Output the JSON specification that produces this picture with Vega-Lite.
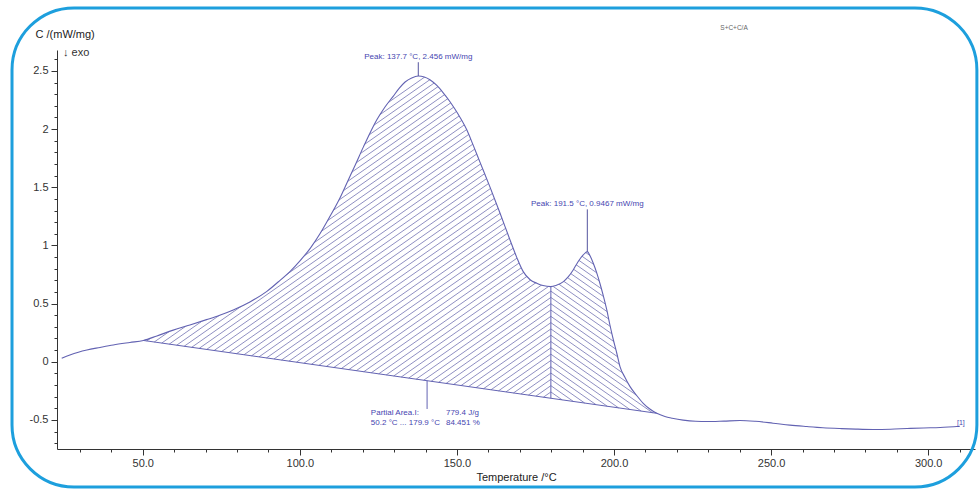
{
  "$schema": "https://vega.github.io/schema/vega-lite/v6.json",
  "width": 918,
  "height": 399,
  "autosize": {"type": "none"},
  "padding": {"left": 57, "top": 50, "right": 5, "bottom": 41},
  "background": "white",
  "config": {
    "view": {"stroke": null},
    "font": "Liberation Sans",
    "axis": {"domainColor": "#333", "tickColor": "#333", "labelColor": "#333", "labelFontSize": 11, "titleFontSize": 11, "titleFontWeight": "normal", "titleColor": "#222", "grid": false, "labelOverlap": false, "labelFlush": false, "zindex": 1}
  },
  "datasets": {
    "curve": [
      {"T": 24.2, "v": 0.030}, {"T": 26.8, "v": 0.058}, {"T": 29.5, "v": 0.082}, {"T": 32.2, "v": 0.101},
      {"T": 36.4, "v": 0.123}, {"T": 40.6, "v": 0.144}, {"T": 45.9, "v": 0.166}, {"T": 50.2, "v": 0.183},
      {"T": 54.5, "v": 0.222}, {"T": 59.7, "v": 0.272}, {"T": 65.0, "v": 0.316}, {"T": 70.3, "v": 0.362},
      {"T": 74.5, "v": 0.400}, {"T": 78.8, "v": 0.445}, {"T": 84.1, "v": 0.514}, {"T": 89.5, "v": 0.605},
      {"T": 93.7, "v": 0.700}, {"T": 97.0, "v": 0.780}, {"T": 100.1, "v": 0.870}, {"T": 103.3, "v": 0.975},
      {"T": 106.4, "v": 1.100}, {"T": 109.6, "v": 1.250}, {"T": 112.8, "v": 1.410}, {"T": 115.2, "v": 1.550},
      {"T": 117.6, "v": 1.690}, {"T": 120.2, "v": 1.845}, {"T": 122.3, "v": 1.965}, {"T": 124.5, "v": 2.080},
      {"T": 127.1, "v": 2.190}, {"T": 129.7, "v": 2.282}, {"T": 131.6, "v": 2.350}, {"T": 133.5, "v": 2.405},
      {"T": 135.6, "v": 2.440}, {"T": 137.7, "v": 2.456}, {"T": 139.6, "v": 2.448}, {"T": 141.4, "v": 2.425},
      {"T": 143.6, "v": 2.375}, {"T": 145.7, "v": 2.309}, {"T": 147.8, "v": 2.235}, {"T": 149.4, "v": 2.170},
      {"T": 151.0, "v": 2.100}, {"T": 153.2, "v": 1.990}, {"T": 155.2, "v": 1.860}, {"T": 157.3, "v": 1.718},
      {"T": 160.5, "v": 1.503}, {"T": 163.7, "v": 1.279}, {"T": 166.9, "v": 1.047}, {"T": 169.1, "v": 0.893},
      {"T": 171.1, "v": 0.775}, {"T": 173.3, "v": 0.705}, {"T": 175.4, "v": 0.675}, {"T": 177.4, "v": 0.655},
      {"T": 179.9, "v": 0.646}, {"T": 181.5, "v": 0.656}, {"T": 183.9, "v": 0.689}, {"T": 185.4, "v": 0.729},
      {"T": 187.0, "v": 0.789}, {"T": 188.5, "v": 0.858}, {"T": 190.2, "v": 0.918}, {"T": 191.5, "v": 0.9467},
      {"T": 192.4, "v": 0.910}, {"T": 193.4, "v": 0.847}, {"T": 194.5, "v": 0.764}, {"T": 195.5, "v": 0.675},
      {"T": 196.6, "v": 0.566}, {"T": 197.7, "v": 0.445}, {"T": 198.7, "v": 0.316}, {"T": 199.8, "v": 0.187},
      {"T": 200.9, "v": 0.071}, {"T": 201.9, "v": -0.042}, {"T": 203.5, "v": -0.135}, {"T": 205.1, "v": -0.214},
      {"T": 207.2, "v": -0.290}, {"T": 209.3, "v": -0.357}, {"T": 211.4, "v": -0.406}, {"T": 213.6, "v": -0.443},
      {"T": 216.2, "v": -0.470}, {"T": 218.5, "v": -0.485}, {"T": 222.0, "v": -0.502}, {"T": 226.0, "v": -0.512},
      {"T": 229.6, "v": -0.514}, {"T": 235.0, "v": -0.510}, {"T": 240.1, "v": -0.505}, {"T": 245.0, "v": -0.512},
      {"T": 250.6, "v": -0.528}, {"T": 256.0, "v": -0.545}, {"T": 261.4, "v": -0.557}, {"T": 266.5, "v": -0.567},
      {"T": 271.9, "v": -0.574}, {"T": 277.0, "v": -0.579}, {"T": 282.4, "v": -0.582}, {"T": 288.0, "v": -0.580},
      {"T": 293.3, "v": -0.574}, {"T": 298.5, "v": -0.569}, {"T": 303.8, "v": -0.565}, {"T": 310.1, "v": -0.555}
    ],
    "hatch1": [
      {"T": 177.52, "v": -0.3048, "T2": 179.9, "v2": -0.2597}, {"T": 175.14, "v": -0.2956, "T2": 179.9, "v2": -0.2056},
      {"T": 172.75, "v": -0.2865, "T2": 179.9, "v2": -0.1514}, {"T": 170.37, "v": -0.2774, "T2": 179.9, "v2": -0.0972},
      {"T": 167.99, "v": -0.2683, "T2": 179.9, "v2": -0.0431}, {"T": 165.61, "v": -0.2591, "T2": 179.9, "v2": 0.0111},
      {"T": 163.23, "v": -0.2500, "T2": 179.9, "v2": 0.0653}, {"T": 160.84, "v": -0.2409, "T2": 179.9, "v2": 0.1195},
      {"T": 158.46, "v": -0.2318, "T2": 179.9, "v2": 0.1736}, {"T": 156.08, "v": -0.2226, "T2": 179.9, "v2": 0.2278},
      {"T": 153.70, "v": -0.2135, "T2": 179.9, "v2": 0.2820}, {"T": 151.32, "v": -0.2044, "T2": 179.9, "v2": 0.3361},
      {"T": 148.93, "v": -0.1953, "T2": 179.9, "v2": 0.3903}, {"T": 146.55, "v": -0.1861, "T2": 179.9, "v2": 0.4445},
      {"T": 144.17, "v": -0.1770, "T2": 179.9, "v2": 0.4987}, {"T": 141.79, "v": -0.1679, "T2": 179.9, "v2": 0.5528},
      {"T": 139.41, "v": -0.1588, "T2": 179.9, "v2": 0.6070}, {"T": 137.02, "v": -0.1496, "T2": 179.9, "v2": 0.6612},
      {"T": 134.64, "v": -0.1405, "T2": 179.9, "v2": 0.7153}, {"T": 132.26, "v": -0.1314, "T2": 179.9, "v2": 0.7695},
      {"T": 129.88, "v": -0.1223, "T2": 179.9, "v2": 0.8237}, {"T": 127.50, "v": -0.1131, "T2": 179.9, "v2": 0.8778},
      {"T": 125.11, "v": -0.1040, "T2": 179.9, "v2": 0.9320}, {"T": 122.73, "v": -0.0949, "T2": 179.9, "v2": 0.9862},
      {"T": 120.35, "v": -0.0858, "T2": 179.9, "v2": 1.0404}, {"T": 117.97, "v": -0.0766, "T2": 179.9, "v2": 1.0945},
      {"T": 115.59, "v": -0.0675, "T2": 179.9, "v2": 1.1487}, {"T": 113.20, "v": -0.0584, "T2": 179.9, "v2": 1.2029},
      {"T": 110.82, "v": -0.0492, "T2": 179.9, "v2": 1.2570}, {"T": 108.44, "v": -0.0401, "T2": 179.9, "v2": 1.3112},
      {"T": 106.06, "v": -0.0310, "T2": 179.9, "v2": 1.3654}, {"T": 103.68, "v": -0.0219, "T2": 179.9, "v2": 1.4195},
      {"T": 101.29, "v": -0.0127, "T2": 179.9, "v2": 1.4737}, {"T": 98.91, "v": -0.0036, "T2": 179.9, "v2": 1.5279},
      {"T": 96.53, "v": 0.0055, "T2": 179.9, "v2": 1.5821}, {"T": 94.15, "v": 0.0146, "T2": 179.9, "v2": 1.6362},
      {"T": 91.77, "v": 0.0238, "T2": 179.9, "v2": 1.6904}, {"T": 89.38, "v": 0.0329, "T2": 179.9, "v2": 1.7446},
      {"T": 87.00, "v": 0.0420, "T2": 179.9, "v2": 1.7987}, {"T": 84.62, "v": 0.0511, "T2": 179.9, "v2": 1.8529},
      {"T": 82.24, "v": 0.0603, "T2": 179.9, "v2": 1.9071}, {"T": 79.86, "v": 0.0694, "T2": 179.9, "v2": 1.9612},
      {"T": 77.47, "v": 0.0785, "T2": 179.9, "v2": 2.0154}, {"T": 75.09, "v": 0.0876, "T2": 179.9, "v2": 2.0696},
      {"T": 72.71, "v": 0.0968, "T2": 179.9, "v2": 2.1238}, {"T": 70.33, "v": 0.1059, "T2": 179.9, "v2": 2.1779},
      {"T": 67.95, "v": 0.1150, "T2": 179.9, "v2": 2.2321}, {"T": 65.56, "v": 0.1241, "T2": 179.9, "v2": 2.2863},
      {"T": 63.18, "v": 0.1333, "T2": 179.9, "v2": 2.3404}, {"T": 60.80, "v": 0.1424, "T2": 179.9, "v2": 2.3946},
      {"T": 58.42, "v": 0.1515, "T2": 179.9, "v2": 2.4488}, {"T": 56.04, "v": 0.1607, "T2": 179.9, "v2": 2.5029},
      {"T": 53.65, "v": 0.1698, "T2": 179.9, "v2": 2.5571}, {"T": 51.27, "v": 0.1789, "T2": 179.9, "v2": 2.6113},
      {"T": 48.89, "v": 0.1880, "T2": 179.9, "v2": 2.6654}, {"T": 46.51, "v": 0.1972, "T2": 179.9, "v2": 2.7196},
      {"T": 44.13, "v": 0.2063, "T2": 179.9, "v2": 2.7738}, {"T": 41.74, "v": 0.2154, "T2": 179.9, "v2": 2.8280},
      {"T": 39.36, "v": 0.2245, "T2": 179.9, "v2": 2.8821}, {"T": 36.98, "v": 0.2337, "T2": 179.9, "v2": 2.9363},
      {"T": 34.60, "v": 0.2428, "T2": 179.9, "v2": 2.9905}, {"T": 32.22, "v": 0.2519, "T2": 179.9, "v2": 3.0446},
      {"T": 29.83, "v": 0.2610, "T2": 179.9, "v2": 3.0988}, {"T": 27.45, "v": 0.2702, "T2": 179.9, "v2": 3.1530},
      {"T": 25.07, "v": 0.2793, "T2": 179.9, "v2": 3.2071}
    ],
    "hatch2": [
      {"T": 183.49, "v": -0.3277, "T2": 179.9, "v2": -0.2597}, {"T": 187.08, "v": -0.3414, "T2": 179.9, "v2": -0.2056},
      {"T": 190.68, "v": -0.3552, "T2": 179.9, "v2": -0.1514}, {"T": 194.27, "v": -0.3689, "T2": 179.9, "v2": -0.0972},
      {"T": 197.86, "v": -0.3827, "T2": 179.9, "v2": -0.0431}, {"T": 201.45, "v": -0.3965, "T2": 179.9, "v2": 0.0111},
      {"T": 205.04, "v": -0.4102, "T2": 179.9, "v2": 0.0653}, {"T": 208.64, "v": -0.4240, "T2": 179.9, "v2": 0.1195},
      {"T": 212.23, "v": -0.4377, "T2": 179.9, "v2": 0.1736}, {"T": 215.82, "v": -0.4515, "T2": 179.9, "v2": 0.2278},
      {"T": 219.41, "v": -0.4653, "T2": 179.9, "v2": 0.2820}, {"T": 223.00, "v": -0.4790, "T2": 179.9, "v2": 0.3361},
      {"T": 226.60, "v": -0.4928, "T2": 179.9, "v2": 0.3903}, {"T": 230.19, "v": -0.5065, "T2": 179.9, "v2": 0.4445},
      {"T": 233.78, "v": -0.5203, "T2": 179.9, "v2": 0.4987}, {"T": 237.37, "v": -0.5341, "T2": 179.9, "v2": 0.5528},
      {"T": 240.96, "v": -0.5478, "T2": 179.9, "v2": 0.6070}, {"T": 244.56, "v": -0.5616, "T2": 179.9, "v2": 0.6612},
      {"T": 248.15, "v": -0.5754, "T2": 179.9, "v2": 0.7153}, {"T": 251.74, "v": -0.5891, "T2": 179.9, "v2": 0.7695},
      {"T": 255.33, "v": -0.6029, "T2": 179.9, "v2": 0.8237}, {"T": 258.92, "v": -0.6166, "T2": 179.9, "v2": 0.8778},
      {"T": 262.52, "v": -0.6304, "T2": 179.9, "v2": 0.9320}, {"T": 266.11, "v": -0.6442, "T2": 179.9, "v2": 0.9862},
      {"T": 269.70, "v": -0.6579, "T2": 179.9, "v2": 1.0404}, {"T": 273.29, "v": -0.6717, "T2": 179.9, "v2": 1.0945},
      {"T": 276.88, "v": -0.6855, "T2": 179.9, "v2": 1.1487}
    ],
    "segs": [
      {"T": 50.2, "v": 0.183, "T2": 213.6, "v2": -0.443},
      {"T": 179.9, "v": -0.3139, "T2": 179.9, "v2": 0.646},
      {"T": 140.5, "v": -0.163, "T2": 140.5, "v2": -0.406}
    ],
    "peaks": [
      {"T": 137.7, "v": 2.456, "vt": 2.575, "vl": 2.621, "label": "Peak: 137.7 °C, 2.456 mW/mg"},
      {"T": 191.5, "v": 0.9467, "vt": 1.31, "vl": 1.357, "label": "Peak: 191.5 °C, 0.9467 mW/mg"}
    ],
    "notes": [
      {"T": 122.6, "v": -0.44, "label": "Partial Area.I:"},
      {"T": 146.5, "v": -0.44, "label": "779.4 J/g"},
      {"T": 122.6, "v": -0.526, "label": "50.2 °C ... 179.9 °C"},
      {"T": 146.5, "v": -0.526, "label": "84.451 %"}
    ],
    "one": [{}]
  },
  "layer": [
    {
      "data": {"name": "hatch1"},
      "mark": {"type": "rule", "clip": true, "color": "#8282bb", "strokeWidth": 0.9},
      "encoding": {
        "x": {"field": "T", "type": "quantitative", "scale": {"domain": [22.7, 314.9], "nice": false, "zero": false},
          "axis": {"title": "Temperature /°C", "titlePadding": 3, "labelPadding": 2, "labelOverlap": false, "labelFlush": false, "labelBound": false, "tickCount": 500,
            "values": [30, 40, 50, 60, 70, 80, 90, 100, 110, 120, 130, 140, 150, 160, 170, 180, 190, 200, 210, 220, 230, 240, 250, 260, 270, 280, 290, 300, 310],
            "labelExpr": "datum.value % 50 === 0 ? format(datum.value, '.1f') : ''",
            "tickSize": {"condition": {"test": "datum.value % 50 === 0", "value": 6}, "value": 3}}},
        "y": {"field": "v", "type": "quantitative", "scale": {"domain": [-0.75, 2.68], "nice": false, "zero": false},
          "axis": {"title": "C /(mW/mg)", "titleAngle": 0, "titleAlign": "left", "titleBaseline": "middle", "titleX": -22, "titleY": -16, "labelPadding": 3, "labelOverlap": false, "labelFlush": false, "labelBound": false, "tickCount": 500,
            "values": [-0.7, -0.6, -0.5, -0.4, -0.3, -0.2, -0.1, 0, 0.1, 0.2, 0.3, 0.4, 0.5, 0.6, 0.7, 0.8, 0.9, 1, 1.1, 1.2, 1.3, 1.4, 1.5, 1.6, 1.7, 1.8, 1.9, 2, 2.1, 2.2, 2.3, 2.4, 2.5, 2.6],
            "labelExpr": "abs(datum.value * 2 - round(datum.value * 2)) < 0.001 ? '' + datum.value : ''",
            "tickSize": {"condition": {"test": "abs(datum.value * 2 - round(datum.value * 2)) < 0.001", "value": 6}, "value": 3}}},
        "x2": {"field": "T2"},
        "y2": {"field": "v2"}
      }
    },
    {
      "data": {"name": "hatch2"},
      "mark": {"type": "rule", "clip": true, "color": "#8282bb", "strokeWidth": 0.9},
      "encoding": {
        "x": {"field": "T", "type": "quantitative", "scale": {"domain": [22.7, 314.9], "nice": false, "zero": false}},
        "y": {"field": "v", "type": "quantitative", "scale": {"domain": [-0.75, 2.68], "nice": false, "zero": false}},
        "x2": {"field": "T2"},
        "y2": {"field": "v2"}
      }
    },
    {
      "data": {"name": "curve"},
      "mark": {"type": "area", "color": "white", "interpolate": "monotone"},
      "encoding": {
        "x": {"field": "T", "type": "quantitative", "scale": {"domain": [22.7, 314.9], "nice": false, "zero": false}},
        "y": {"field": "v", "type": "quantitative", "scale": {"domain": [-0.75, 2.68], "nice": false, "zero": false}},
        "y2": {"datum": 2.68}
      }
    },
    {
      "data": {"name": "curve"},
      "transform": [{"filter": "datum.T >= 213.6"}],
      "mark": {"type": "area", "color": "white", "interpolate": "monotone"},
      "encoding": {
        "x": {"field": "T", "type": "quantitative", "scale": {"domain": [22.7, 314.9], "nice": false, "zero": false}},
        "y": {"field": "v", "type": "quantitative", "scale": {"domain": [-0.75, 2.68], "nice": false, "zero": false}},
        "y2": {"datum": -0.75}
      }
    },
    {
      "data": {"name": "curve"},
      "mark": {"type": "line", "color": "#6262b2", "strokeWidth": 1.1, "interpolate": "monotone"},
      "encoding": {
        "x": {"field": "T", "type": "quantitative", "scale": {"domain": [22.7, 314.9], "nice": false, "zero": false}},
        "y": {"field": "v", "type": "quantitative", "scale": {"domain": [-0.75, 2.68], "nice": false, "zero": false}}
      }
    },
    {
      "data": {"name": "segs"},
      "mark": {"type": "rule", "color": "#6262b2", "strokeWidth": 1},
      "encoding": {
        "x": {"field": "T", "type": "quantitative", "scale": {"domain": [22.7, 314.9], "nice": false, "zero": false}},
        "y": {"field": "v", "type": "quantitative", "scale": {"domain": [-0.75, 2.68], "nice": false, "zero": false}},
        "x2": {"field": "T2"},
        "y2": {"field": "v2"}
      }
    },
    {
      "data": {"name": "peaks"},
      "mark": {"type": "rule", "color": "#55559f", "strokeWidth": 1},
      "encoding": {
        "x": {"field": "T", "type": "quantitative", "scale": {"domain": [22.7, 314.9], "nice": false, "zero": false}},
        "y": {"field": "v", "type": "quantitative", "scale": {"domain": [-0.75, 2.68], "nice": false, "zero": false}},
        "y2": {"field": "vt"}
      }
    },
    {
      "data": {"name": "peaks"},
      "mark": {"type": "text", "color": "#4545b0", "fontSize": 8, "align": "center", "baseline": "middle"},
      "encoding": {
        "x": {"field": "T", "type": "quantitative", "scale": {"domain": [22.7, 314.9], "nice": false, "zero": false}},
        "y": {"field": "vl", "type": "quantitative", "scale": {"domain": [-0.75, 2.68], "nice": false, "zero": false}},
        "text": {"field": "label"}
      }
    },
    {
      "data": {"name": "notes"},
      "mark": {"type": "text", "color": "#4545b0", "fontSize": 8, "align": "left", "baseline": "middle"},
      "encoding": {
        "x": {"field": "T", "type": "quantitative", "scale": {"domain": [22.7, 314.9], "nice": false, "zero": false}},
        "y": {"field": "v", "type": "quantitative", "scale": {"domain": [-0.75, 2.68], "nice": false, "zero": false}},
        "text": {"field": "label"}
      }
    },
    {
      "data": {"name": "one"},
      "mark": {"type": "text", "color": "#333", "fontSize": 11, "align": "left", "baseline": "middle", "text": "↓ exo"},
      "encoding": {
        "x": {"datum": 24.6, "type": "quantitative", "scale": {"domain": [22.7, 314.9], "nice": false, "zero": false}},
        "y": {"datum": 2.655, "type": "quantitative", "scale": {"domain": [-0.75, 2.68], "nice": false, "zero": false}}
      }
    },
    {
      "data": {"name": "one"},
      "mark": {"type": "text", "color": "#666", "fontSize": 6.5, "align": "center", "baseline": "middle", "text": "S+C+C/A", "clip": false},
      "encoding": {
        "x": {"datum": 238.2, "type": "quantitative", "scale": {"domain": [22.7, 314.9], "nice": false, "zero": false}},
        "y": {"datum": 2.87, "type": "quantitative", "scale": {"domain": [-0.75, 2.68], "nice": false, "zero": false}}
      }
    },
    {
      "data": {"name": "one"},
      "mark": {"type": "text", "color": "#4545b0", "fontSize": 7, "align": "center", "baseline": "middle", "text": "[1]"},
      "encoding": {
        "x": {"datum": 310.4, "type": "quantitative", "scale": {"domain": [22.7, 314.9], "nice": false, "zero": false}},
        "y": {"datum": -0.526, "type": "quantitative", "scale": {"domain": [-0.75, 2.68], "nice": false, "zero": false}}
      }
    },
    {
      "data": {"name": "one"},
      "mark": {"type": "rect", "filled": false, "stroke": "#1d9fdd", "strokeWidth": 3, "cornerRadius": 62, "clip": false},
      "encoding": {
        "x": {"datum": 8.38, "type": "quantitative", "scale": {"domain": [22.7, 314.9], "nice": false, "zero": false}},
        "x2": {"datum": 315.5},
        "y": {"datum": 3.042, "type": "quantitative", "scale": {"domain": [-0.75, 2.68], "nice": false, "zero": false}},
        "y2": {"datum": -1.077}
      }
    }
  ]
}
